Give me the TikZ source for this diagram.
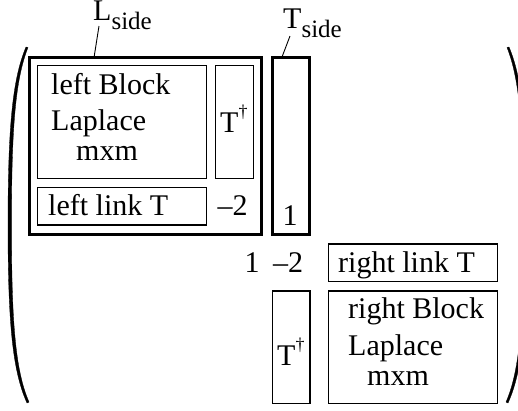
\documentclass[tikz,border=0pt]{standalone}
\usepackage{fontspec}
\setmainfont{Liberation Serif}
\newcommand{\mydag}{\raisebox{15pt}{\fontsize{18}{18}\selectfont †}}
\newcommand{\mysub}[1]{\raisebox{-8.5pt}{\fontsize{25}{25}\selectfont #1}}
\begin{document}
\begin{tikzpicture}[x=1pt,y=-1pt,
  thin box/.style={draw, line width=1.2pt, inner sep=0pt},
  thick box/.style={draw, line width=3pt, inner sep=0pt},
  txt/.style={inner sep=0pt, anchor=base west, font=\fontsize{30}{36}\selectfont},
  txtc/.style={inner sep=0pt, anchor=base, font=\fontsize{30}{36}\selectfont},
  paren/.style={fill=black, draw=black, line width=0.3pt}]
\useasboundingbox (0,0) rectangle (518,410);
\clip (0,0) rectangle (518,410);
% boxes (center, size)
\newcommand{\bx}[6]{\node[#1, minimum width={(#5-#3)*1pt}, minimum height={(#6-#4)*1pt}] (#2) at ({(#3+#5)/2},{(#4+#6)/2}) {};}
\bx{thick box}{Lbox}{29}{57.7}{261.7}{234.3}
\bx{thick box}{Tbox}{272.5}{57}{309}{234.3}
\bx{thin box}{lblock}{37.3}{65.7}{206.7}{178.3}
\bx{thin box}{tdagU}{215.7}{65.7}{253.3}{178.3}
\bx{thin box}{llink}{37.3}{187.7}{206.7}{225}
\bx{thin box}{rlink}{328.3}{244}{497.7}{281.7}
\bx{thin box}{tdagL}{272.3}{291}{310}{403.3}
\bx{thin box}{rblock}{328.3}{291}{497.7}{403.3}
% texts
\node[txt] (t1) at (51,94) {left Block};
\node[txt] (t2) at (51,130) {Laplace};
\node[txt] (t3) at (76,160) {mxm};
\node[txt] (t4) at (220,132) {T\mydag};
\node[txt] (t5) at (48,215) {left link T};
\node[txtc] (t6) at (232.5,215) {\textendash2};
\node[txtc] (t7) at (290,225) {1};
\node[txtc] (t8) at (252,272) {1};
\node[txtc] (t9) at (288,272) {\textendash2};
\node[txt] (t10) at (338,272) {right link T};
\node[txt] (t11) at (348,318) {right Block};
\node[txt] (t12) at (348,355) {Laplace};
\node[txt] (t13) at (367,385) {mxm};
\node[txt] (t14) at (277,365) {T\mydag};
% labels
\node[txt] (Llab) at (93,20.8) {L\mysub{side}};
\node[txt] (Tlab) at (283,28.5) {T\mysub{side}};
\coordinate (La) at (94,57.7);
\coordinate (Lb) at (99,26);
\coordinate (Ta) at (282,57);
\coordinate (Tb) at (290,36);
\draw[line width=0.9pt] (La) -- (Lb);
\draw[line width=0.9pt] (Ta) -- (Tb);
% parentheses
\fill[paren] (26,47) .. controls (12,80) and (8,130) .. (8,225)
  .. controls (8,320) and (12,370) .. (27,403) -- (29,402)
  .. controls (15,370) and (11.5,320) .. (11.5,225)
  .. controls (11.5,130) and (15,80) .. (28,47.5) -- cycle;
\fill[paren] (509,47) .. controls (523,80) and (527,130) .. (527,225)
  .. controls (527,320) and (523,370) .. (508,403) -- (506,402)
  .. controls (520,370) and (523.5,320) .. (523.5,225)
  .. controls (523.5,130) and (520,80) .. (507,47.5) -- cycle;
\end{tikzpicture}
\end{document}
